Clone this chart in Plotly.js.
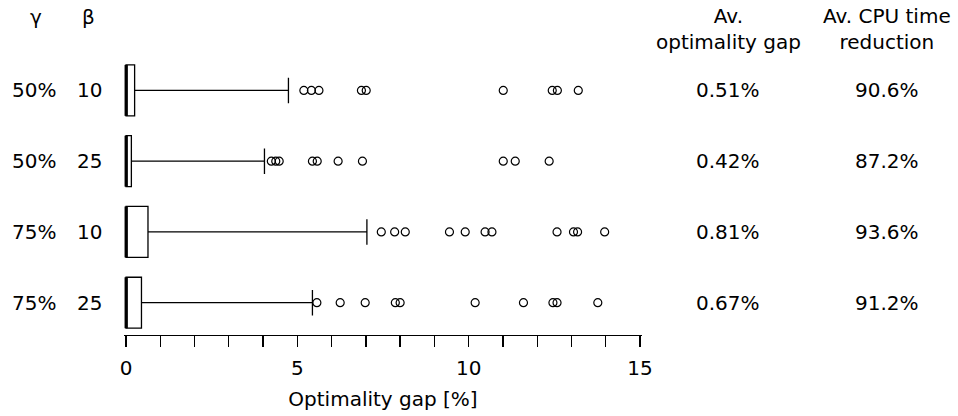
<!DOCTYPE html>
<html>
<head>
<meta charset="utf-8">
<script src="https://cdn.plot.ly/plotly-3.0.1.min.js"></script>
<style>html,body{margin:0;padding:0;background:#fff;}#chart{width:958px;height:416px;}</style>
</head>
<body>
<div id="chart"></div>
<script>
// ---- data ----
const gammaLabels = ['50%', '50%', '75%', '75%'];
const betaLabels = ['10', '25', '10', '25'];
const q1 = [0, 0, 0, 0];
const median = [0, 0, 0, 0];
const q3 = [0.25, 0.155, 0.64, 0.45];
const lowerFence = [0, 0, 0, 0];
const upperFence = [4.74, 4.04, 7.03, 5.44];
const outliers0 = [5.19, 5.41, 5.63, 6.87, 7.01, 11.01, 12.44, 12.59, 13.20];
const outliers1 = [4.24, 4.37, 4.47, 5.44, 5.58, 6.19, 6.90, 11.01, 11.36, 12.35];
const outliers2 = [7.45, 7.84, 8.15, 9.44, 9.90, 10.48, 10.68, 12.58, 13.06, 13.18, 13.97];
const outliers3 = [5.57, 6.25, 6.98, 7.86, 8.00, 10.19, 11.60, 12.46, 12.58, 13.77];
const avGap = ['0.51%', '0.42%', '0.81%', '0.67%'];
const avCpu = ['90.6%', '87.2%', '93.6%', '91.2%'];
const xTitle = 'Optimality gap [%]';
const headGamma = 'γ';
const headBeta = 'β';
const headGap = 'Av.<br>optimality gap';
const headCpu = 'Av. CPU time<br>reduction';

// ---- geometry ----
const W = 958, H = 416;
const M = {l: 123.6, r: 316.2, t: 54.6, b: 81};
const plotW = W - M.l - M.r, plotH = H - M.t - M.b;
const px2x = px => (px - M.l) / plotW;
const py2y = py => (H - M.b - py) / plotH;

const pos = gammaLabels.map((_, i) => i);
const allOut = [outliers0, outliers1, outliers2, outliers3];
const BOXW = 0.72;
const FONT = 'DejaVu Sans, Verdana, sans-serif';
const INK = '#000';

const traces = [];
traces.push({
  type: 'box', orientation: 'h',
  y: pos, q1: q1, median: median, q3: q3,
  lowerfence: lowerFence, upperfence: upperFence,
  width: BOXW, whiskerwidth: 0.5,
  fillcolor: '#fff', line: {color: INK, width: 1.3},
  boxpoints: false, showlegend: false, hoverinfo: 'skip'
});
// median emphasis
const mx = [], my = [];
median.forEach((m, i) => { mx.push(m, m, null); my.push(i - BOXW / 2, i + BOXW / 2, null); });
traces.push({type: 'scatter', mode: 'lines', x: mx, y: my, line: {color: INK, width: 3},
  showlegend: false, hoverinfo: 'skip', cliponaxis: false});
// outliers
const ox = [], oy = [];
allOut.forEach((arr, i) => arr.forEach(v => { ox.push(v); oy.push(i); }));
traces.push({type: 'scatter', mode: 'markers', x: ox, y: oy,
  marker: {symbol: 'circle-open', size: 8, color: INK, line: {width: 1.2, color: INK}},
  showlegend: false, hoverinfo: 'skip', cliponaxis: false});

const ann = [];
const f20 = {family: FONT, size: 20, color: INK};
pos.forEach(i => {
  ann.push({xref: 'paper', yref: 'y', x: px2x(34), y: i, text: gammaLabels[i], showarrow: false, xanchor: 'center', yanchor: 'middle', font: f20});
  ann.push({xref: 'paper', yref: 'y', x: px2x(89), y: i, text: betaLabels[i], showarrow: false, xanchor: 'center', yanchor: 'middle', font: f20});
  ann.push({xref: 'paper', yref: 'y', x: px2x(728), y: i, text: avGap[i], showarrow: false, xanchor: 'center', yanchor: 'middle', font: f20});
  ann.push({xref: 'paper', yref: 'y', x: px2x(887), y: i, text: avCpu[i], showarrow: false, xanchor: 'center', yanchor: 'middle', font: f20});
});
ann.push({xref: 'paper', yref: 'paper', x: px2x(36), y: py2y(17), text: headGamma, showarrow: false, xanchor: 'center', yanchor: 'middle', font: f20});
ann.push({xref: 'paper', yref: 'paper', x: px2x(88), y: py2y(17), text: headBeta, showarrow: false, xanchor: 'center', yanchor: 'middle', font: f20});
ann.push({xref: 'paper', yref: 'paper', x: px2x(728), y: py2y(29), text: headGap, showarrow: false, xanchor: 'center', yanchor: 'middle', font: f20});
ann.push({xref: 'paper', yref: 'paper', x: px2x(887), y: py2y(29), text: headCpu, showarrow: false, xanchor: 'center', yanchor: 'middle', font: f20});

const layout = {
  width: W, height: H, margin: M,
  paper_bgcolor: '#fff', plot_bgcolor: '#fff',
  showlegend: false,
  font: {family: FONT, size: 20, color: INK},
  xaxis: {
    range: [-0.06, 15.06], tick0: 0, dtick: 5,
    showgrid: false, zeroline: false,
    showline: true, linecolor: INK, linewidth: 1.3,
    ticks: 'outside', ticklen: 11, tickwidth: 1.3, tickcolor: INK,
    ticklabelstandoff: 4,
    minor: {dtick: 1, tick0: 0, ticks: 'outside', ticklen: 11, tickwidth: 1.3, tickcolor: INK, showgrid: false},
    tickfont: {family: FONT, size: 20, color: INK},
    title: {text: xTitle, font: {family: FONT, size: 20, color: INK}, standoff: 12}
  },
  yaxis: {
    range: [3.456, -0.5], visible: false, showgrid: false, zeroline: false
  },
  annotations: ann
};

Plotly.newPlot('chart', traces, layout, {staticPlot: true, displayModeBar: false});
</script>
</body>
</html>
